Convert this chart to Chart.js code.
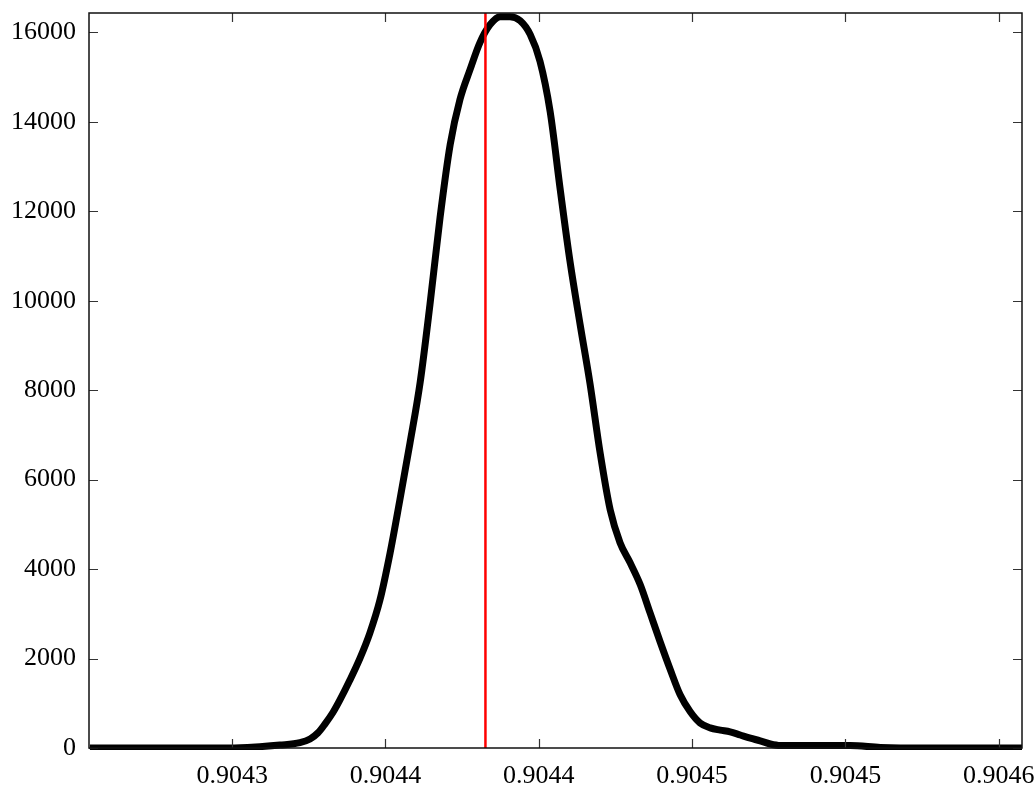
<!DOCTYPE html>
<html>
<head>
<meta charset="utf-8">
<script src="https://cdn.jsdelivr.net/npm/chart.js@4.4.1/dist/chart.umd.min.js"></script>
<style>
  body { margin: 0; background: #fff; }
  #wrap { width: 1036px; height: 785px; }
</style>
</head>
<body>
<div id="wrap"><canvas id="myChart"></canvas></div>
<script>
// density curve
var xValues = [0.9042536, 0.9042992, 0.9043090, 0.9043156, 0.9043221, 0.9043254, 0.9043280, 0.9043303,
    0.9043329, 0.9043351, 0.9043384, 0.9043417, 0.9043449, 0.9043482, 0.9043515, 0.9043547,
    0.9043580, 0.9043613, 0.9043645, 0.9043678, 0.9043711, 0.9043743, 0.9043776, 0.9043808,
    0.9043841, 0.9043874, 0.9043906, 0.9043939, 0.9043972, 0.9044004, 0.9044037, 0.9044070,
    0.9044102, 0.9044135, 0.9044167, 0.9044200, 0.9044233, 0.9044265, 0.9044298, 0.9044331,
    0.9044363, 0.9044396, 0.9044429, 0.9044461, 0.9044494, 0.9044526, 0.9044559, 0.9044592,
    0.9044624, 0.9044657, 0.9044690, 0.9044722, 0.9044755, 0.9044788, 0.9045016, 0.9045114,
    0.9045179, 0.9045577];
var yValues = [0, 0, 30, 65, 120, 200, 340, 540,
    800, 1070, 1520, 2010, 2570, 3310, 4360, 5550,
    6820, 8170, 9910, 11860, 13490, 14500, 15170, 15770,
    16170, 16350, 16350, 16260, 15950, 15350, 14230, 12480,
    10870, 9460, 8150, 6600, 5320, 4590, 4140, 3650,
    3020, 2370, 1750, 1190, 810, 560, 450, 400,
    360, 290, 220, 160, 90, 55, 55, 10,
    0, 0];

var markerX = 0.9043826;   // red vertical line

var xMin = 0.9042533;
var xMax = 0.9045576;
var yMin = 0;
var yMax = 16432;

var xTicks = [0.90430, 0.90435, 0.90440, 0.90445, 0.90450, 0.90455];
var xTickLabels = ['0.9043', '0.9044', '0.9044', '0.9045', '0.9045', '0.9046'];
var yTicks = [0, 2000, 4000, 6000, 8000, 10000, 12000, 14000, 16000];

var curve = xValues.map(function (x, i) { return { x: x, y: yValues[i] }; });

// box around the plot with the little inward ticks on all four sides
var frame = {
    id: 'frame',
    afterDatasetsDraw: function (chart) {
        var ctx = chart.ctx;
        var a = chart.chartArea;
        var xs = chart.scales.x, ys = chart.scales.y;
        var len = 9;
        ctx.save();
        ctx.strokeStyle = '#333';
        ctx.lineWidth = 1.2;
        ctx.beginPath();
        xTicks.forEach(function (t) {
            var px = Math.round(xs.getPixelForValue(t)) + 0.5;
            ctx.moveTo(px, a.bottom); ctx.lineTo(px, a.bottom - len);
            ctx.moveTo(px, a.top); ctx.lineTo(px, a.top + len);
        });
        yTicks.forEach(function (t) {
            var py = Math.round(ys.getPixelForValue(t)) + 0.5;
            ctx.moveTo(a.left, py); ctx.lineTo(a.left + len, py);
            ctx.moveTo(a.right, py); ctx.lineTo(a.right - len, py);
        });
        ctx.stroke();
        ctx.strokeStyle = '#111';
        ctx.lineWidth = 1.5;
        ctx.strokeRect(a.left, a.top, a.right - a.left, a.bottom - a.top);
        ctx.restore();
    }
};

function noPad(scale) {
    scale.paddingLeft = 0;
    scale.paddingRight = 0;
    scale.paddingTop = 0;
    scale.paddingBottom = 0;
}

var ctx = document.getElementById('myChart').getContext('2d');
var chart = new Chart(ctx, {
    type: 'scatter',
    data: {
        datasets: [{
            data: [{ x: markerX, y: yMin }, { x: markerX, y: yMax }],
            showLine: true,
            borderColor: '#ff0000',
            borderWidth: 2.5,
            pointRadius: 0,
            clip: 0
        }, {
            data: curve,
            showLine: true,
            borderColor: '#000000',
            borderWidth: 7,
            pointRadius: 0,
            cubicInterpolationMode: 'monotone',
            clip: { left: 0, right: 0, top: 4, bottom: 2 }
        }]
    },
    options: {
        responsive: true,
        maintainAspectRatio: false,
        animation: false,
        events: [],
        layout: { padding: { top: 13, right: 14, left: 0, bottom: 0 } },
        plugins: { legend: { display: false }, tooltip: { enabled: false } },
        scales: {
            x: {
                type: 'linear',
                min: xMin,
                max: xMax,
                grid: { display: false, drawTicks: false },
                border: { display: false },
                afterBuildTicks: function (scale) {
                    scale.ticks = xTicks.map(function (v) { return { value: v }; });
                },
                afterFit: function (scale) { scale.height = 37; noPad(scale); },
                ticks: {
                    padding: 13,
                    color: '#000',
                    maxRotation: 0,
                    autoSkip: false,
                    font: { family: '"Liberation Serif", "DejaVu Serif", serif', size: 26 },
                    callback: function (v, i) { return xTickLabels[i]; }
                }
            },
            y: {
                min: yMin,
                max: yMax,
                grid: { display: false, drawTicks: false },
                border: { display: false },
                afterBuildTicks: function (scale) {
                    scale.ticks = yTicks.map(function (v) { return { value: v }; });
                },
                afterFit: function (scale) { scale.width = 89; noPad(scale); },
                ticks: {
                    padding: 13,
                    color: '#000',
                    font: { family: '"Liberation Serif", "DejaVu Serif", serif', size: 26 },
                    callback: function (v) { return String(v); }
                }
            }
        }
    },
    plugins: [frame]
});
</script>
</body>
</html>
